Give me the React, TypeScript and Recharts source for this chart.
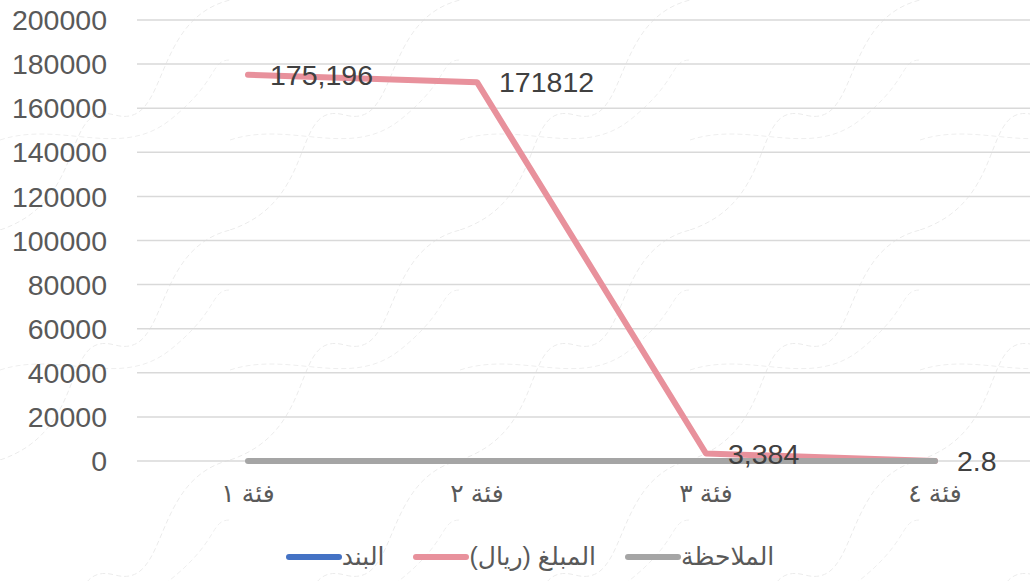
import { CartesianGrid, LabelList, Legend, Line, LineChart, XAxis, YAxis } from "recharts";

const categories = ["فئة ١", "فئة ٢", "فئة ٣", "فئة ٤"];
const itemValues: (number | null)[] = [null, null, null, null];
const amountValues = [175196, 171812, 3384, 2.8];
const noteValues = [0, 0, 0, 0];
const amountLabels = ["175,196", "171812", "3,384", "2.8"];
const yTicks = [0, 20000, 40000, 60000, 80000, 100000, 120000, 140000, 160000, 180000, 200000];

const series = [
  { key: "item", name: "البند", color: "#4472C4" },
  { key: "amount", name: "المبلغ (ريال)", color: "#E8919C" },
  { key: "note", name: "الملاحظة", color: "#A5A5A5" },
];

const data = categories.map((label, i) => ({
  label,
  item: itemValues[i],
  amount: amountValues[i],
  note: noteValues[i],
  amountLabel: amountLabels[i],
}));

const FONT = '"Liberation Sans", "DejaVu Sans", sans-serif';

// faint dashed waves behind the chart, like the sheet's texture
const waveTile =
  "url(\"data:image/svg+xml;utf8," +
  encodeURIComponent(
    '<svg xmlns="http://www.w3.org/2000/svg" width="230" height="230">' +
      '<path d="M0,230 C90,200 60,100 115,115 S150,20 230,0" fill="none" stroke="#EBEBEB" stroke-width="1" stroke-dasharray="5 3"/>' +
      '<path d="M0,140 C60,120 120,160 170,120 S210,60 230,60" fill="none" stroke="#EEEEEE" stroke-width="1" stroke-dasharray="5 3"/>' +
      "</svg>"
  ) +
  "\")";

const renderAmountLabel = (props: any) => {
  const { x, y, index } = props;
  return (
    <text x={x + 22} y={y} dominantBaseline="central" textAnchor="start" fill="#404040" fontSize={28.5} fontFamily={FONT}>
      {amountLabels[index]}
    </text>
  );
};

const renderLegend = () => (
  <div style={{ display: "flex", justifyContent: "center", alignItems: "center", gap: 29, paddingTop: 16, fontFamily: FONT }}>
    {series.map((s) => (
      <div key={s.key} style={{ display: "flex", alignItems: "center" }}>
        <span style={{ display: "inline-block", width: 56, height: 6, borderRadius: 3, background: s.color }} />
        <span style={{ fontSize: 25, color: "#595959" }}>{s.name}</span>
      </div>
    ))}
  </div>
);

const App = () => {
  return (
    <div
      style={{
        position: "fixed",
        left: 0,
        top: 0,
        width: 1030,
        height: 581,
        overflow: "hidden",
        backgroundColor: "#fff",
        backgroundImage: waveTile,
      }}
    >
      <LineChart width={1060} height={581} data={data} margin={{ top: 20, right: 0, left: 0, bottom: 5 }}>
        <CartesianGrid vertical={false} stroke="#D9D9D9" strokeWidth={1.5} />
        <XAxis
          dataKey="label"
          axisLine={false}
          tickLine={false}
          tickSize={0}
          tickMargin={23}
          height={65}
          padding={{ left: 111, right: 125 }}
          tick={{ fill: "#595959", fontSize: 25, fontFamily: FONT }}
        />
        <YAxis
          width={137}
          domain={[0, 200000]}
          ticks={yTicks}
          axisLine={false}
          tickLine={false}
          tickSize={0}
          tickMargin={30}
          interval={0}
          tick={{ fill: "#595959", fontSize: 28.5, fontFamily: FONT }}
        />
        <Legend verticalAlign="bottom" height={50} content={renderLegend} />
        {series.map((s) => (
          <Line
            key={s.key}
            dataKey={s.key}
            name={s.name}
            stroke={s.color}
            strokeWidth={6}
            strokeLinecap="round"
            strokeLinejoin="round"
            dot={false}
            activeDot={false}
            type="linear"
            isAnimationActive={false}
          />
        ))}
        <Line dataKey="amount" stroke="none" dot={false} activeDot={false} legendType="none" isAnimationActive={false}>
          <LabelList dataKey="amountLabel" content={renderAmountLabel} />
        </Line>
      </LineChart>
    </div>
  );
};

export default App;
